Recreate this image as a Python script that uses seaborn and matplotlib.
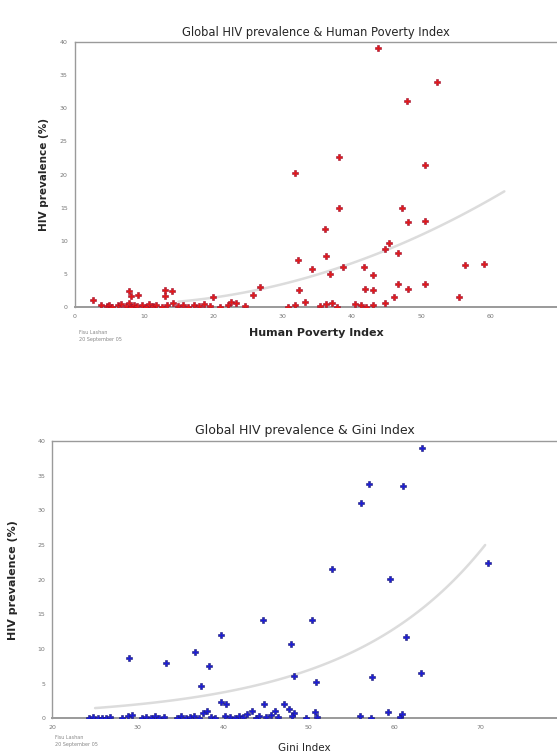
import numpy as np
import matplotlib
matplotlib.use("Agg")
import matplotlib.pyplot as plt
import seaborn as sns

sns.set_style("white")
plt.rcParams['font.family'] = ['DejaVu Sans']

# ---- Human Poverty Index vs HIV prevalence ----
hpi = [43.8, 52.3, 48.0, 31.8, 38.1, 50.5, 38.1, 47.3, 48.1, 50.5, 36.1, 45.3, 44.8,
       46.6, 32.2, 36.3, 34.3, 38.7, 36.8, 41.8, 43.1, 56.3, 59.0, 55.4, 46.7, 48.1,
       50.5, 46.1, 41.9, 43.1, 32.4, 25.8, 26.7, 20.0, 2.6, 7.9, 8.2, 9.2, 13.1, 14.1,
       13.1,
       3.8, 4.6, 5.0, 5.4, 6.2, 6.7, 7.4, 7.8, 8.2, 8.6, 9.0, 9.7, 10.3, 10.8, 11.3,
       11.8, 12.6, 13.3, 14.2, 14.9, 15.6, 16.4, 17.2, 17.9, 18.7, 19.5, 21.0, 22.1,
       22.6, 23.3, 24.6, 30.8, 31.8, 33.3, 35.4, 36.2, 37.2, 37.9, 40.5, 41.3, 42.1,
       43.1, 44.8]
hiv_hpi = [39.0, 33.9, 31.1, 20.2, 22.6, 21.5, 15.0, 15.0, 12.9, 13.0, 11.8, 9.65, 8.75,
           8.25, 7.15, 7.75, 5.75, 6.0, 4.95, 6.0, 4.9, 6.4, 6.5, 1.55, 3.55, 2.75,
           3.55, 1.55, 2.75, 2.65, 2.55, 1.9, 3.0, 1.5, 1.15, 2.4, 1.65, 1.9, 2.55, 2.4,
           1.65,
           0.3, 0.2, 0.4, 0.1, 0.3, 0.5, 0.2, 0.6, 0.1, 0.3, 0.2, 0.4, 0.1, 0.5, 0.2,
           0.3, 0.1, 0.4, 0.6, 0.2, 0.3, 0.1, 0.4, 0.2, 0.5, 0.2, 0.1, 0.3,
           0.8, 0.6, 0.2, 0.1, 0.3, 0.8, 0.2, 0.5, 0.7, 0.1, 0.5, 0.3, 0.1,
           0.4, 0.6]

# ---- Gini Index vs HIV prevalence ----
gini = [63.2, 57.0, 61.0, 56.1, 52.7, 59.5, 70.9, 44.6, 50.4, 39.7, 47.9, 61.4, 29.0,
        33.3, 36.7, 38.3, 37.4, 48.3, 50.8, 57.4, 63.1, 39.7, 40.3, 43.3, 44.7, 47.1,
        47.7, 48.3, 50.7, 56.0, 59.2,
        24.3, 24.8, 25.3, 25.8, 26.3, 26.8, 28.2, 28.8, 29.3, 30.5, 31.0, 31.5, 32.0,
        32.5, 33.0, 34.6, 35.1, 35.6, 36.1, 36.6, 37.2, 37.6, 38.1, 38.5, 39.0, 40.2,
        40.8, 41.3, 41.8, 42.3, 42.8, 43.8, 44.2, 45.0, 45.6, 46.0, 46.4, 48.0, 49.6,
        51.0, 57.3, 60.6, 60.9]
hiv_gini = [39.0, 33.8, 33.5, 31.1, 21.5, 20.1, 22.4, 14.2, 14.2, 12.0, 10.7, 11.8, 8.7,
            8.0, 9.6, 7.5, 4.6, 6.1, 5.3, 6.0, 6.6, 2.4, 2.0, 1.1, 2.0, 2.1,
            1.4, 0.7, 0.9, 0.3, 0.9,
            0.1, 0.2, 0.1, 0.0, 0.1, 0.2, 0.1, 0.3, 0.5, 0.1, 0.2, 0.1, 0.3,
            0.1, 0.2, 0.1, 0.3, 0.1, 0.2, 0.4, 0.1, 0.8, 1.0, 0.2, 0.1, 0.3,
            0.2, 0.1, 0.4, 0.2, 0.6, 0.1, 0.3, 0.2, 0.5, 1.0, 0.2, 0.3, 0.0,
            0.2, 0.0, 0.2, 0.6]

# trend lines
hpi_trend_coef = [0.00555, -0.0741, 0.723]
hpi_trend_range = [15, 62]
gini_trend_a, gini_trend_b, gini_trend_x0 = 25.0, 0.062, 70.6
gini_trend_range = [25, 70.6]

note = "Fisu Lashan\n20 September 05"
grey = '#9a9a9a'

fig = plt.figure(figsize=(5.57, 7.54), dpi=100)
ax1 = fig.add_axes([0.134, 0.5924, 0.866, 0.3523])
ax2 = fig.add_axes([0.0939, 0.0473, 0.9061, 0.3678])


def style_axes(ax):
    for side in ['left', 'top', 'bottom']:
        ax.spines[side].set_color(grey)
        ax.spines[side].set_linewidth(1.0)
    ax.spines['bottom'].set_linewidth(1.4)
    ax.spines['right'].set_visible(False)
    ax.tick_params(axis='both', which='both', direction='out', length=3, width=0.6,
                   color=grey, labelsize=4.5, labelcolor='#777777', pad=2)
    ax.set_yticks(np.arange(0, 41, 5))
    ax.set_ylim(0, 40)


# top chart
xs = np.linspace(hpi_trend_range[0], hpi_trend_range[1], 100)
ax1.plot(xs, np.polyval(hpi_trend_coef, xs), color='#dcdcdc', lw=1.8, zorder=1)
sns.scatterplot(x=hpi, y=hiv_hpi, ax=ax1, marker='P', s=15, color='#e41818',
                edgecolor='#9a1030', linewidth=0.4, zorder=3)
ax1.set_xlim(0, 69.6)
ax1.set_xticks(np.arange(0, 61, 10))
style_axes(ax1)
ax1.set_title('Global HIV prevalence & Human Poverty Index', fontsize=8.3, pad=4)
ax1.set_xlabel('Human Poverty Index', fontsize=8, fontweight='bold', labelpad=6)
ax1.set_ylabel('HIV prevalence (%)', fontsize=7.5, fontweight='bold', labelpad=8)
ax1.text(0.01, -0.085, note, transform=ax1.transAxes, fontsize=3.5, color='#888888',
         va='top', linespacing=1.4)

# bottom chart
xs = np.linspace(gini_trend_range[0], gini_trend_range[1], 100)
ax2.plot(xs, gini_trend_a * np.exp(gini_trend_b * (xs - gini_trend_x0)),
         color='#dcdcdc', lw=1.8, zorder=1)
sns.scatterplot(x=gini, y=hiv_gini, ax=ax2, marker='P', s=15, color='#1c1cd8',
                edgecolor='#1a1a70', linewidth=0.4, zorder=3)
ax2.set_xlim(20, 79.0)
ax2.set_xticks(np.arange(20, 71, 10))
style_axes(ax2)
ax2.set_title('Global HIV prevalence & Gini Index', fontsize=9, pad=5)
ax2.set_xlabel('Gini Index', fontsize=7.5, labelpad=9)
ax2.set_ylabel('HIV prevalence (%)', fontsize=8, fontweight='bold', labelpad=14)
ax2.text(0.005, -0.06, note, transform=ax2.transAxes, fontsize=3.5, color='#888888',
         va='top', linespacing=1.4)

fig.savefig('out.png', dpi=100)
